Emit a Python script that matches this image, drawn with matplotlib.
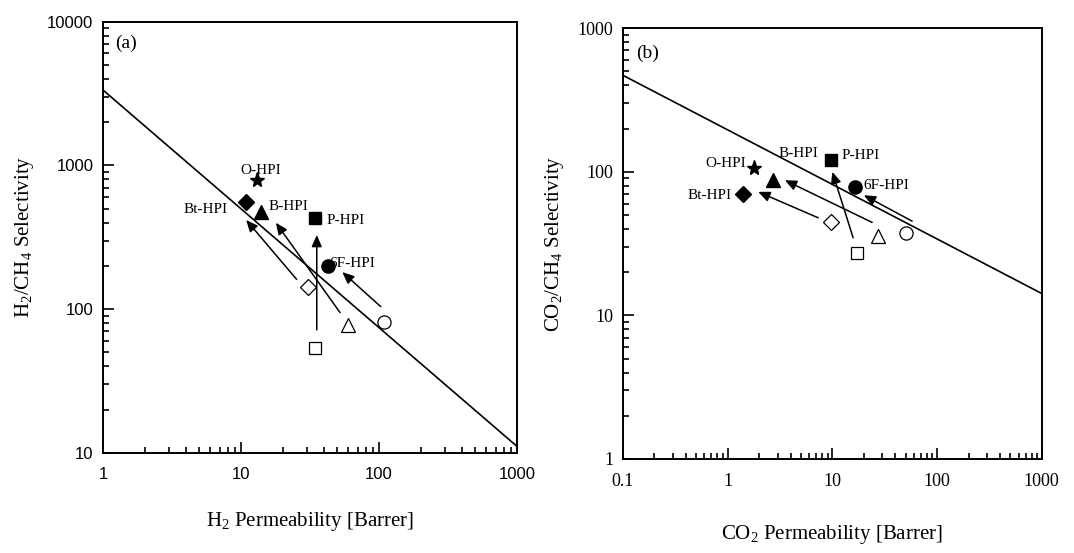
import matplotlib
matplotlib.use("Agg")
import matplotlib.pyplot as plt
from matplotlib.ticker import LogLocator, FixedLocator, FixedFormatter, NullFormatter

plt.rcParams["mathtext.fontset"] = "custom"
plt.rcParams["mathtext.rm"] = "Liberation Serif"
plt.rcParams["mathtext.it"] = "Liberation Serif:italic"
plt.rcParams["mathtext.bf"] = "Liberation Serif:bold"
plt.rcParams["mathtext.default"] = "rm"

# ---------------- data ----------------
names = ["O-HPI", "Bt-HPI", "B-HPI", "P-HPI", "6F-HPI"]

# panel (a): H2 permeability / H2/CH4 selectivity
a_filled_x = [13.0, 10.8, 14.0, 34.5, 42.5]
a_filled_y = [790, 560, 470, 429, 200]
a_open_x = [30.4, 59.3, 108.7, 34.5]          # diamond, triangle, circle, square
a_open_y = [142, 77.6, 81, 54]
a_arrow_start_x = [25.3, 52.2, 35.4, 103]
a_arrow_start_y = [161, 94.6, 71.7, 104]
a_arrow_end_x = [10.9, 17.9, 35.4, 54.2]
a_arrow_end_y = [417, 399, 328, 181]
a_bound_x = [1, 1000]
a_bound_y = [3340, 11.1]
a_label_x = [14.0, 5.55, 22.2, 57.4, 64.5]
a_label_y = [919, 497, 516, 413, 209]

# panel (b): CO2 permeability / CO2/CH4 selectivity
b_filled_x = [1.79, 1.41, 2.69, 9.68, 16.4]
b_filled_y = [106, 70.6, 88, 120, 78.5]
b_open_x = [9.8, 27.4, 50.3, 17.3]
b_open_y = [44.4, 36.0, 37.4, 27.4]
b_arrow_start_x = [7.33, 24.0, 15.8, 57.8]
b_arrow_start_y = [47.8, 44.4, 34.7, 45.3]
b_arrow_end_x = [1.96, 3.52, 10.0, 20.0]
b_arrow_end_y = [72.5, 87.4, 99.9, 68.7]
b_bound_x = [0.1, 1000]
b_bound_y = [470, 14.2]
b_label_x = [0.956, 0.678, 4.72, 18.7, 32.9]
b_label_y = [114, 68.7, 134, 130, 79.8]

a_xticks = [1, 10, 100, 1000]
a_yticks = [10, 100, 1000, 10000]
b_xticks = [0.1, 1, 10, 100, 1000]
b_yticks = [1, 10, 100, 1000]

filled_markers = ["*", "D", "^", "s", "o"]
filled_sizes = [11, 8, 10, 8.5, 9.5]
open_markers = ["D", "^", "o", "s"]
open_sizes = [8, 10, 9.5, 8]

serif = "Liberation Serif"
sans = "Liberation Sans"

fig = plt.figure(figsize=(10.74, 5.53), dpi=100)
ax_a = fig.add_axes([0.0959, 0.181, 0.3855, 0.780])
ax_b = fig.add_axes([0.580, 0.170, 0.390, 0.779])


def draw(ax, fx, fy, ox, oy, asx, asy, aex, aey, bx, by, lx, ly, xticks, yticks,
         tickfont, ticksize, xlabel, ylabel, xpad, tag, tagpos):
    ax.set_xscale("log")
    ax.set_yscale("log")
    ax.set_xlim(xticks[0], xticks[-1])
    ax.set_ylim(yticks[0], yticks[-1])
    ax.plot(bx, by, color="black", lw=1.2)
    for (x0, y0, x1, y1) in zip(asx, asy, aex, aey):
        ax.annotate("", xy=(x1, y1), xytext=(x0, y0),
                    arrowprops=dict(arrowstyle="-|>,head_length=0.5,head_width=0.22",
                                    color="black", lw=1.1,
                                    mutation_scale=14, shrinkA=0, shrinkB=0))
    for x, y, m, s in zip(fx, fy, filled_markers, filled_sizes):
        ax.plot(x, y, marker=m, ms=s, color="black", ls="none")
    for x, y, m, s in zip(ox, oy, open_markers, open_sizes):
        ax.plot(x, y, marker=m, ms=s, mfc="white", mec="black", mew=0.9, ls="none")
    for t, x, y in zip(names, lx, ly):
        ax.text(x, y, t, ha="center", va="center", fontsize=11, family=serif)
    ax.text(tagpos[0], tagpos[1], tag, ha="center", va="center", fontsize=14, family=serif)

    ax.xaxis.set_major_locator(FixedLocator(xticks))
    ax.yaxis.set_major_locator(FixedLocator(yticks))
    ax.xaxis.set_major_formatter(FixedFormatter([("%g" % v) for v in xticks]))
    ax.yaxis.set_major_formatter(FixedFormatter([("%g" % v) for v in yticks]))
    ax.xaxis.set_minor_locator(LogLocator(base=10, subs=range(2, 10), numticks=20))
    ax.yaxis.set_minor_locator(LogLocator(base=10, subs=range(2, 10), numticks=20))
    ax.xaxis.set_minor_formatter(NullFormatter())
    ax.yaxis.set_minor_formatter(NullFormatter())
    ax.tick_params(which="both", direction="in", top=False, right=False, width=1.2)
    ax.tick_params(which="major", length=8)
    ax.tick_params(which="minor", length=4)
    ax.tick_params(axis="x", which="major", pad=10)
    ax.tick_params(axis="y", which="major", pad=7)
    for lab in ax.get_xticklabels() + ax.get_yticklabels():
        lab.set_family(tickfont)
        lab.set_fontsize(ticksize)
    for sp in ax.spines.values():
        sp.set_linewidth(1.4)
    ax.set_xlabel(xlabel, fontsize=15, family=serif, labelpad=xpad)
    ax.set_ylabel(ylabel, fontsize=15, family=serif, labelpad=8)


draw(ax_a, a_filled_x, a_filled_y, a_open_x, a_open_y,
     a_arrow_start_x, a_arrow_start_y, a_arrow_end_x, a_arrow_end_y,
     a_bound_x, a_bound_y, a_label_x, a_label_y, a_xticks, a_yticks, sans, 12,
     r"H$_2$ Permeability [Barrer]", r"H$_2$/CH$_4$ Selectivity", 20, "(a)", (1.47, 7070))

draw(ax_b, b_filled_x, b_filled_y, b_open_x, b_open_y,
     b_arrow_start_x, b_arrow_start_y, b_arrow_end_x, b_arrow_end_y,
     b_bound_x, b_bound_y, b_label_x, b_label_y, b_xticks, b_yticks, serif, 13,
     r"CO$_2$ Permeability [Barrer]", r"CO$_2$/CH$_4$ Selectivity", 24, "(b)", (0.171, 672))

fig.savefig("out.png", dpi=100)
